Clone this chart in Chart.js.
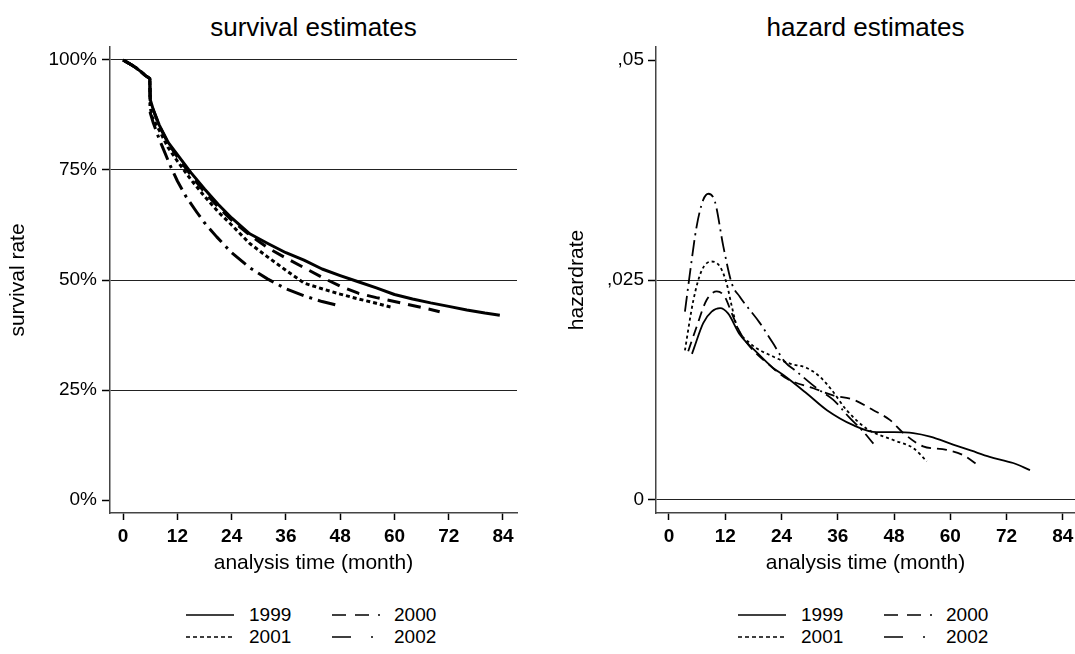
<!DOCTYPE html>
<html>
<head>
<meta charset="utf-8">
<title>survival and hazard estimates</title>
<script src="https://cdn.jsdelivr.net/npm/chart.js@4.4.1/dist/chart.umd.min.js"></script>
<style>
  body { margin: 0; background: #fff; font-family: "Liberation Sans", Arial, sans-serif; }
  #page { position: relative; width: 1075px; height: 654px; overflow: hidden; background: #fff; }
  .box { position: absolute; top: 0; height: 600px; }
  .title { position: absolute; top: 12px; height: 30px; line-height: 30px; font-size: 26px; text-align: center; color: #000; }
  .item { position: absolute; height: 22px; line-height: 22px; font-size: 19px; color: #000; white-space: nowrap; }
  .item svg { position: absolute; left: 0; top: 8px; }
  .item span { position: absolute; top: 0; }
</style>
</head>
<body>
<div id="page">
  <div class="title" style="left:110px;width:407px;">survival estimates</div>
  <div class="title" style="left:656px;width:419px;">hazard estimates</div>
  <div class="box" style="left:0;width:537px;"><canvas id="survival"></canvas></div>
  <div class="box" style="left:537px;width:538px;"><canvas id="hazard"></canvas></div>
</div>
<script>
// tick labels
const monthTicks = [0, 12, 24, 36, 48, 60, 72, 84];
const survivalTicks = [0, 25, 50, 75, 100];
const hazardTicks = [0, 0.025, 0.05];
const years = ['1999', '2000', '2001', '2002'];

// survival rate (%) by analysis time (month)
const survMonths1999 = [0, 1, 2, 3, 4, 5, 5.9, 6, 6.7, 8, 10, 12, 15, 18, 21, 24, 28, 32, 36, 40, 44, 48, 52, 56, 60, 64, 68, 72, 76, 80, 83.3];
const survRate1999 = [100, 99.4, 98.8, 98.1, 97.3, 96.4, 95.8, 91, 88.6, 85.2, 81.2, 78.5, 74.4, 70.7, 67.2, 64.1, 60.5, 58.3, 56.2, 54.5, 52.5, 51, 49.6, 48.2, 46.7, 45.7, 44.8, 44, 43.2, 42.5, 42];

const survMonths2000 = [0, 1, 2, 3, 4, 5, 5.9, 6, 8, 10, 12, 15, 18, 21, 24, 28, 32, 36, 40, 44, 48, 52, 56, 60, 64, 68, 70];
const survRate2000 = [100, 99.4, 98.8, 98.1, 97.3, 96.4, 95.8, 90.5, 85, 81, 78, 73.8, 70, 66.6, 63.6, 60.2, 57.3, 55, 52.8, 50.6, 48.6, 47, 46, 45.1, 44.2, 43.3, 42.8];

const survMonths2001 = [0, 1, 2, 3, 4, 5, 5.9, 6, 6.3, 8, 10, 12, 15, 18, 21, 24, 28, 32, 36, 40, 44, 48, 52, 56, 59.7];
const survRate2001 = [100, 99.4, 98.8, 98.1, 97.3, 96.4, 95.8, 89.5, 87.3, 84, 80, 77, 72.8, 69, 65.5, 62.5, 58.3, 55.2, 52.2, 49.3, 48, 46.8, 45.7, 44.7, 43.7];

const survMonths2002 = [0, 1, 2, 3, 4, 5, 5.9, 6, 6.7, 8, 9, 10.5, 12, 14, 16.3, 18, 20.7, 24, 28, 32, 36, 40, 44, 47.6];
const survRate2002 = [100, 99.4, 98.8, 98.1, 97.3, 96.4, 95.8, 88, 85.6, 82, 79.5, 75.8, 72.5, 68.8, 65.4, 63, 59.8, 56.2, 52.8, 50.2, 48, 46.4, 45.1, 44.2];

// hazard rate by analysis time (month)
const hazMonths1999 = [4.9, 5.3, 7.3, 9.1, 10.9, 12.6, 15.1, 18.3, 22.2, 24.4, 29.4, 33.7, 39.3, 44.3, 48, 52.1, 55.7, 60.6, 64.5, 68.4, 73.4, 77];
const hazRate1999 = [0.0166, 0.0172, 0.0201, 0.0214, 0.0218, 0.0212, 0.0188, 0.0170, 0.0150, 0.0142, 0.0121, 0.0102, 0.0085, 0.0077, 0.0077, 0.0076, 0.0072, 0.0063, 0.0056, 0.0049, 0.0042, 0.0034];

const hazMonths2000 = [4.1, 5.9, 8.0, 10.2, 11.9, 13.4, 15.1, 17.3, 21.5, 25.1, 30.8, 35.0, 39.3, 43.6, 47.1, 50.0, 54.2, 59.2, 62.7, 66.3];
const hazRate2000 = [0.0169, 0.0197, 0.0227, 0.0237, 0.0231, 0.0212, 0.0191, 0.0174, 0.0153, 0.0138, 0.0127, 0.0119, 0.0114, 0.0102, 0.0091, 0.0076, 0.0061, 0.0057, 0.0051, 0.0038];

const hazMonths2001 = [3.4, 5.2, 7.0, 9.1, 10.9, 12.3, 13.4, 14.5, 17.3, 22.2, 25.8, 29.4, 32.2, 34.7, 37.9, 42.2, 47.9, 52.1, 55.0];
const hazRate2001 = [0.0170, 0.0227, 0.0261, 0.0271, 0.0265, 0.0246, 0.0220, 0.0197, 0.0178, 0.0163, 0.0155, 0.0150, 0.0140, 0.0125, 0.0102, 0.0081, 0.0068, 0.0059, 0.0044];

const hazMonths2002 = [3.4, 4.5, 5.9, 7.3, 8.4, 9.8, 11.6, 13.4, 15.1, 19.4, 22.2, 24.7, 27.2, 31.5, 35.0, 38.6, 41.4, 43.6];
const hazRate2002 = [0.0214, 0.0259, 0.0311, 0.0341, 0.0348, 0.0339, 0.0288, 0.0246, 0.0231, 0.0201, 0.0178, 0.0157, 0.0146, 0.0127, 0.0114, 0.0093, 0.0078, 0.0064];

// line patterns per year
const survivalDash = [[], [13, 8], [4, 3], [18, 6, 3, 6]];
const hazardDash = [[], [10, 6], [3, 3], [16, 5, 2, 5]];
const legendDash = ['', '14 9', '4 3', '19 20 2 20'];

const FONT = '"Liberation Sans", Arial, sans-serif';
Chart.defaults.font.family = FONT;
Chart.defaults.color = '#000';

/**
 * pair up months and values into {x, y} points
 */
const toPoints = (months, values) => months.map((m, i) => ({ x: m, y: values[i] }));

/**
 * build the line datasets for one panel
 * @param {Array} series pairs of [months, values]
 * @param {Array} dashes dash pattern per year
 * @param {number} width line width
 * @param {boolean} smooth use monotone curves (hazard) or straight segments (survival)
 */
const buildDatasets = (series, dashes, width, smooth) =>
  series.map((s, i) => ({
    label: years[i],
    data: toPoints(s[0], s[1]),
    borderColor: '#000',
    borderWidth: width,
    borderDash: dashes[i],
    borderJoinStyle: 'round',
    pointRadius: 0,
    fill: false,
    tension: 0,
    cubicInterpolationMode: smooth ? 'monotone' : 'default'
  }));

/**
 * options shared by both panels
 */
const panelOptions = cfg => ({
  responsive: true,
  maintainAspectRatio: false,
  animation: false,
  events: [],
  layout: { padding: { top: 47, right: cfg.padRight, left: 0, bottom: 0 } },
  plugins: { legend: { display: false }, tooltip: { enabled: false }, title: { display: false } },
  scales: {
    x: {
      type: 'linear',
      min: cfg.xMin,
      max: cfg.xMax,
      afterBuildTicks: scale => { scale.ticks = monthTicks.map(value => ({ value })); },
      afterFit: scale => { scale.height = 87; scale.paddingLeft = 0; scale.paddingRight = 0; },
      ticks: { autoSkip: false, maxRotation: 0, padding: 5, color: '#000', font: { size: 19, weight: 'bold' } },
      grid: { drawOnChartArea: false, tickLength: 7, tickColor: '#000', tickWidth: 1.5 },
      border: { color: '#444', width: 1.5 },
      title: { display: true, text: 'analysis time (month)', color: '#000', font: { size: 21 }, padding: { top: 0, bottom: 24 } }
    },
    y: {
      type: 'linear',
      min: cfg.yMin,
      max: cfg.yMax,
      afterBuildTicks: scale => { scale.ticks = cfg.yTicks.map(value => ({ value })); },
      afterFit: scale => { scale.width = cfg.yWidth; },
      ticks: { padding: cfg.yTickPad, color: '#000', font: { size: 19 }, callback: cfg.yFormat },
      grid: {
        color: ctx => (ctx.tick && cfg.gridAt.includes(ctx.tick.value) ? '#222' : 'rgba(0,0,0,0)'),
        lineWidth: 1,
        tickLength: 8,
        tickColor: '#000',
        tickWidth: 1.5
      },
      border: { color: '#444', width: 1.5 },
      title: { display: true, text: cfg.yTitle, color: '#000', font: { size: 21 }, padding: { top: cfg.yTitlePad } }
    }
  }
});

new Chart(document.getElementById('survival'), {
  type: 'line',
  data: {
    datasets: buildDatasets(
      [[survMonths1999, survRate1999], [survMonths2000, survRate2000], [survMonths2001, survRate2001], [survMonths2002, survRate2002]],
      survivalDash,
      3,
      false
    )
  },
  options: panelOptions({
    padRight: 20,
    xMin: -2.9,
    xMax: 87.1,
    yMin: -2.95,
    yMax: 102.95,
    yTicks: survivalTicks,
    gridAt: [25, 50, 75, 100],
    yWidth: 110,
    yTickPad: 5,
    yTitle: 'survival rate',
    yTitlePad: 6,
    yFormat: v => v + '%'
  })
});

new Chart(document.getElementById('hazard'), {
  type: 'line',
  data: {
    datasets: buildDatasets(
      [[hazMonths1999, hazRate1999], [hazMonths2000, hazRate2000], [hazMonths2001, hazRate2001], [hazMonths2002, hazRate2002]],
      hazardDash,
      1.8,
      true
    )
  },
  options: panelOptions({
    padRight: 0,
    xMin: -2.77,
    xMax: 86.6,
    yMin: -0.00148,
    yMax: 0.05148,
    yTicks: hazardTicks,
    gridAt: [0, 0.025],
    yWidth: 119,
    yTickPad: 4,
    yTitle: 'hazardrate',
    yTitlePad: 28,
    yFormat: v => (v === 0 ? '0' : String(v).replace('0.', ','))
  })
});

// legends, two columns by two rows under each panel
const legendRows = [604, 626];
const legendCols = [186, 332];
const legendText = [63, 62];
const legendShift = [0, 552];

const page = document.getElementById('page');
legendShift.forEach(shift => {
  years.forEach((year, i) => {
    const row = Math.floor(i / 2);
    const col = i % 2;
    const item = document.createElement('div');
    item.className = 'item';
    item.style.left = legendCols[col] + shift + 'px';
    item.style.top = legendRows[row] + 'px';
    item.style.width = '120px';
    const dash = legendDash[i] ? ` stroke-dasharray="${legendDash[i]}"` : '';
    item.innerHTML =
      `<svg width="48" height="6"><line x1="0" y1="3" x2="48" y2="3" stroke="#000" stroke-width="1.6"${dash}/></svg>` +
      `<span style="left:${legendText[col]}px">${year}</span>`;
    page.appendChild(item);
  });
});
</script>
</body>
</html>
